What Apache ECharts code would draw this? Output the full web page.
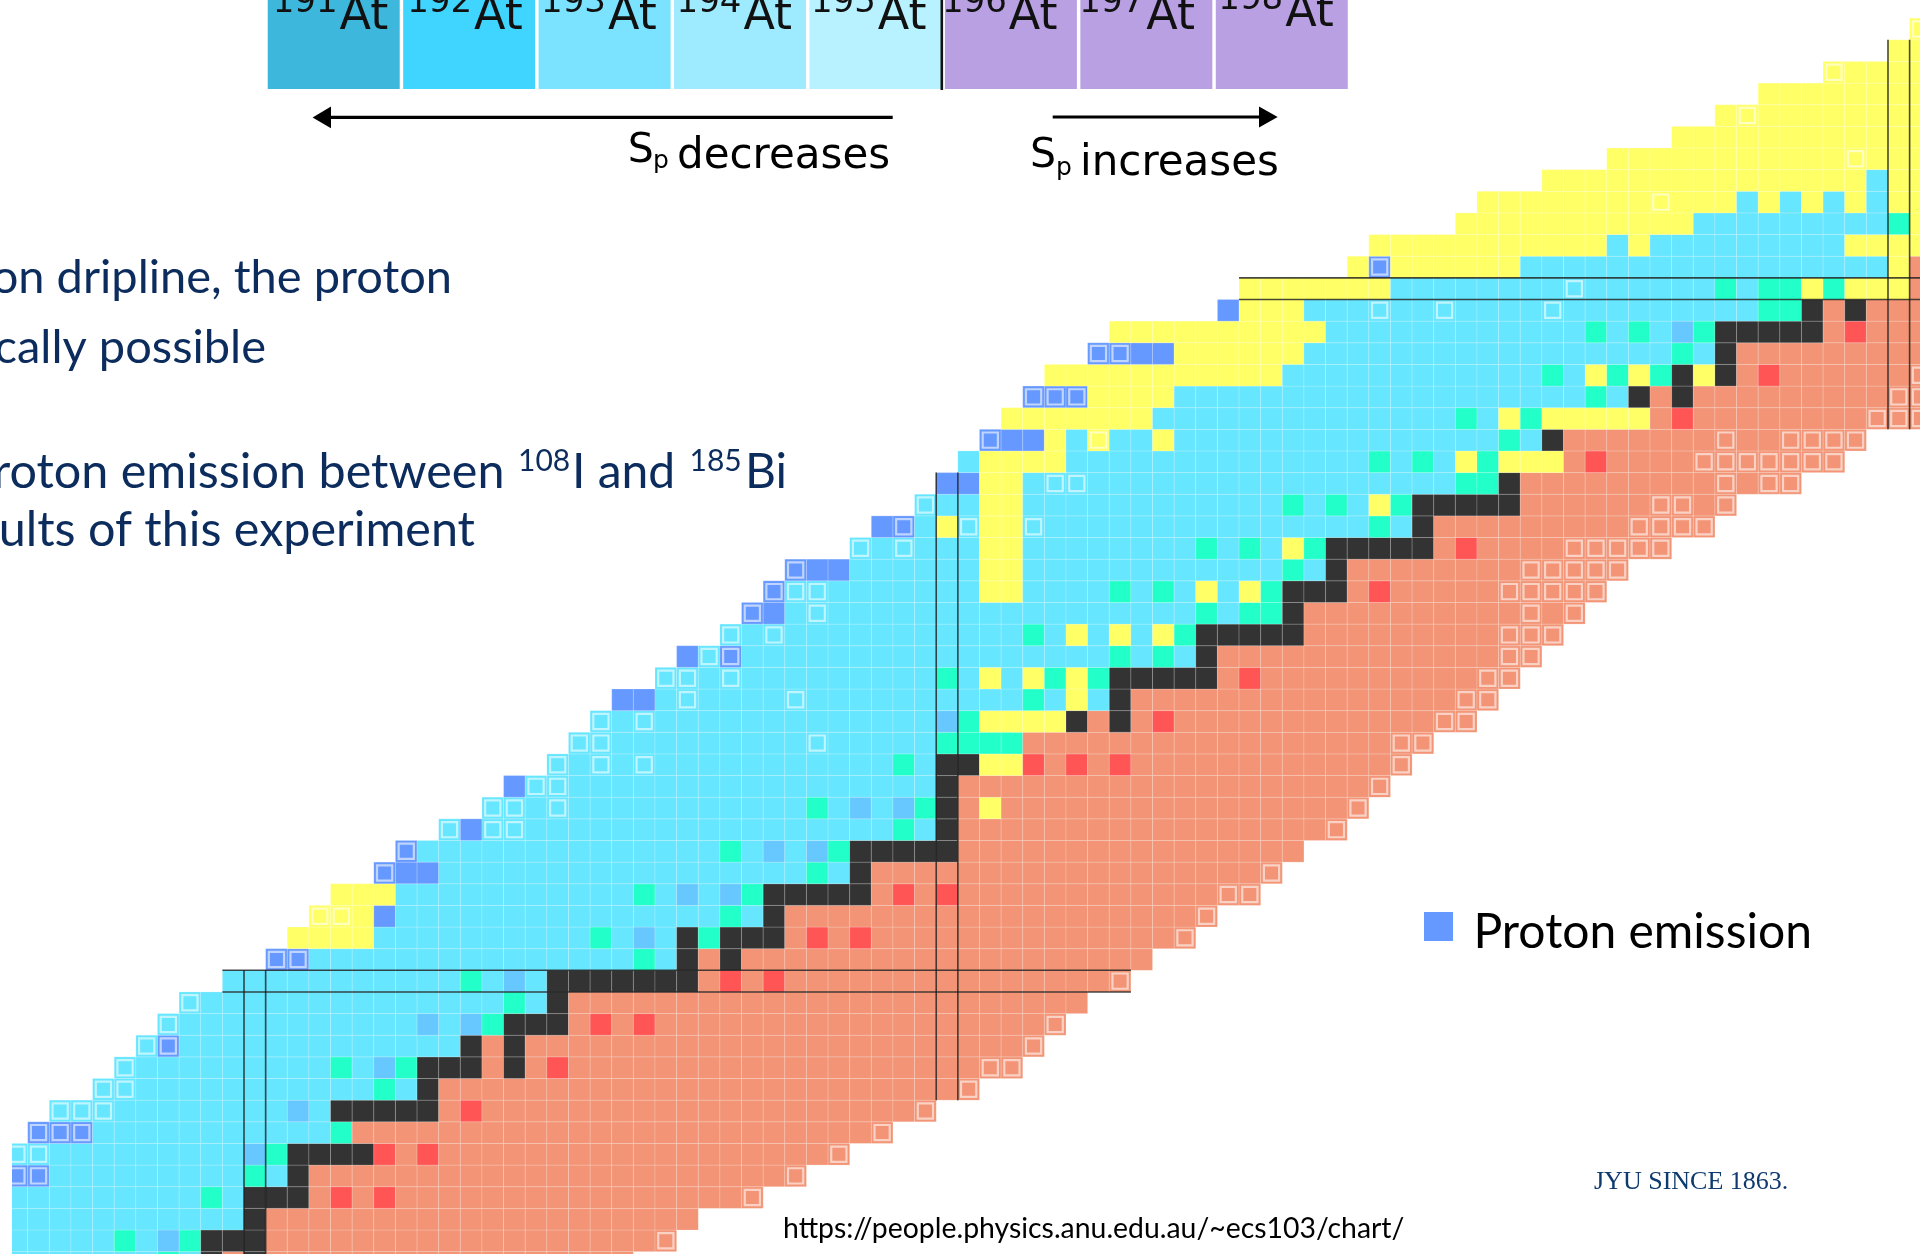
<!DOCTYPE html>
<html>
<head>
<meta charset="utf-8">
<style>html,body{margin:0;padding:0;background:#fff}#c{width:1920px;height:1254px}</style>
<script src="https://cdn.jsdelivr.net/npm/echarts@6/dist/echarts.min.js"></script>
</head>
<body>
<div id="c"></div>
<script>
// Nuclide chart. Each entry: "startN:code"; a code holds until the next token; "-" ends the row.
// Upper-case code = nuclide drawn with an inner frame.
const protonNumbers = [37,38,39,40,41,42,43,44,45,46,47,48,49,50,51,52,53,54,55,56,57,58,59,60,61,62,63,64,65,66,67,68,69,70,71,72,73,74,75,76,77,78,79,80,81,82,83,84,85,86,87,88,89,90,91,92,93,94];
const cellRuns = [
"39:c 46:g 47:c 48:k 49:o 50:k 51:o 68:-",
"39:c 44:g 45:c 46:b 47:g 48:k 51:o 69:O 70:-",
"39:c 50:k 51:o 71:-",
"39:c 48:g 49:c 50:k 53:o 54:r 55:o 56:r 57:o 73:O 74:-",
"39:P 41:c 50:g 51:c 52:k 53:o 75:O 76:-",
"39:C 41:c 50:b 51:g 52:k 56:r 57:o 58:r 59:o 77:O 78:-",
"40:P 43:c 54:g 55:o 79:O 80:-",
"41:C 44:c 52:b 53:c 54:k 59:o 60:r 61:o 81:O 82:-",
"43:C 45:c 56:g 57:c 58:k 59:o 83:O 84:-",
"44:C 45:c 54:g 55:c 56:b 57:g 58:k 61:o 62:k 63:o 64:r 65:o 84:O 86:-",
"45:C 46:P 47:c 60:k 61:o 62:k 63:o 86:O 87:-",
"46:C 47:c 58:b 59:c 60:b 61:g 62:k 65:o 66:r 67:o 68:r 69:o 87:O 88:-",
"47:C 48:c 62:g 63:c 64:k 65:o 89:-",
"49:c 60:g 61:c 62:b 63:c 64:k 71:o 72:r 73:o 74:r 75:o 90:O 91:-",
"51:P 53:c 68:g 69:c 70:k 71:o 72:k 73:o 92:-",
"52:y 56:c 66:g 67:c 68:b 69:c 70:k 71:g 72:k 75:o 76:r 77:o 78:r 79:o 93:O 94:-",
"53:Y 55:y 56:p 57:c 72:g 73:c 74:k 75:o 94:O 95:-",
"54:y 57:c 68:g 69:c 70:b 71:c 72:b 73:g 74:k 79:o 80:r 81:o 82:r 83:o 95:O 97:-",
"56:P 57:p 59:c 76:g 77:c 78:k 79:o 97:O 98:-",
"57:P 58:c 72:g 73:c 74:b 75:c 76:b 77:g 78:k 83:o 99:-",
"59:C 60:p 61:C 63:c 80:g 81:c 82:k 83:o 100:O 101:-",
"61:C 63:c 64:C 65:c 76:g 77:c 78:b 79:c 80:b 81:g 82:k 83:o 84:y 85:o 101:O 102:-",
"62:p 63:C 65:c 82:k 83:o 102:O 103:-",
"64:C 65:c 66:C 67:c 68:C 69:c 80:g 81:c 82:k 84:y 86:r 87:o 88:r 89:o 90:r 91:o 103:O 104:-",
"65:C 67:c 76:C 77:c 82:g 86:o 103:O 105:-",
"66:C 67:c 68:C 69:c 82:b 83:g 84:y 88:k 89:o 90:k 91:o 92:r 93:o 105:O 107:-",
"67:p 69:c 70:C 71:c 75:C 76:c 86:g 87:c 88:y 89:c 90:k 91:o 106:O 108:-",
"69:C 71:c 72:C 73:c 82:g 83:c 84:y 85:c 86:y 87:g 88:y 89:g 90:k 95:o 96:r 97:o 107:O 109:-",
"70:p 71:C 72:P 73:c 90:g 91:c 92:g 93:c 94:k 95:o 108:O 110:-",
"72:C 73:c 74:C 75:c 86:g 87:c 88:y 89:c 90:y 91:c 92:y 93:g 94:k 99:o 108:O 111:-",
"73:P 74:p 75:c 76:C 77:c 94:g 95:c 96:g 98:k 99:o 109:O 110:o 111:O 112:-",
"74:P 75:C 77:c 84:y 86:c 90:g 91:c 92:g 93:c 94:y 95:c 96:y 97:g 98:k 101:o 102:r 103:o 108:O 113:-",
"75:P 76:p 78:c 84:y 86:c 98:g 99:c 100:k 101:o 109:O 114:-",
"78:C 79:c 80:C 81:c 84:y 86:c 94:g 95:c 96:g 97:c 98:y 99:g 100:k 105:o 106:r 107:o 111:O 116:-",
"79:p 80:P 81:c 82:y 83:C 84:y 86:C 87:c 102:g 103:c 104:k 105:o 114:O 118:-",
"81:C 82:c 84:y 86:c 98:g 99:c 100:g 101:c 102:y 103:g 104:k 109:o 115:O 117:o 118:O 119:-",
"82:p 84:y 86:c 87:C 89:c 106:g 108:k 109:o 118:O 119:o 120:O 122:-",
"83:c 84:y 88:c 102:g 103:c 104:g 105:c 106:y 107:g 108:y 111:o 112:r 113:o 117:O 124:-",
"84:P 85:p 87:y 88:c 89:Y 90:c 92:y 93:c 108:g 109:c 110:k 111:o 118:O 119:o 121:O 125:-",
"85:y 92:c 106:g 107:c 108:y 109:g 110:y 115:o 116:r 117:o 125:O 128:-",
"86:P 89:y 93:c 112:g 113:c 114:k 115:o 116:k 117:o 126:O 128:-",
"87:y 98:c 110:g 111:c 112:y 113:g 114:y 115:g 116:k 117:y 118:k 119:o 120:r 121:o 127:O 128:-",
"89:P 91:p 93:y 99:c 116:g 117:c 118:k 119:o 128:-",
"90:y 100:c 112:g 113:c 114:g 115:c 116:b 117:g 118:k 123:o 124:r 125:o 128:-",
"95:p 96:y 99:c 102:C 103:c 105:C 106:c 110:C 111:c 120:g 122:k 123:o 124:k 125:o 128:-",
"96:y 103:c 111:C 112:c 118:g 119:c 120:g 122:y 123:g 124:y 127:o 128:-",
"101:y 102:P 103:y 109:c 126:y 127:o 128:-",
"102:y 113:c 114:y 115:c 124:y 128:-",
"106:y 117:c 126:g 127:y 128:-",
"107:y 115:Y 116:y 119:c 120:y 121:c 122:y 123:c 124:y 125:c 126:y 128:-",
"110:y 125:c 126:y 128:-",
"113:y 124:Y 125:y 128:-",
"116:y 128:-",
"118:y 119:Y 120:y 128:-",
"120:y 128:-",
"123:Y 124:y 128:-",
"126:y 128:-",
"127:Y 128:-"
];
// Closed shells: the proton or neutron number, and the span of the other number along which the pair of lines runs.
const neutronShells = [50, 82, 126];
const neutronShellSpans = [[37, 51], [45, 74], [76, 94]];
const protonShells = [50, 82];
const protonShellSpans = [[49, 91], [96, 128]];

const astatineMass = ["191","192","193","194","195","196","197","198"];
const astatineBars = [1,1,1,1,1,1,1,1];

const typeColors = {c:'#66E6FF', y:'#FFFF66', o:'#F29475', k:'#333333', g:'#22FFC8', b:'#66C8FF', p:'#6699FF', r:'#FF5555'};
const astatineColors = ['#3DB8DC','#40D5FF','#7BE3FF','#9EEAFF','#B8F1FF','#B9A0E2','#B9A0E2','#B9A0E2'];
const astatineLabelOffsets = [[5,-14],[4,-14],[2.5,-14],[2.5,-14],[1.5,-14],[-3,-14],[-1,-14],[2.5,-17]];

const cellData = [];
protonNumbers.forEach(function(z, i){
  const tokens = cellRuns[i].split(' ').map(function(t){ const a=t.split(':'); return [+a[0], a[1]]; });
  for (let t=0; t<tokens.length-1; t++){
    for (let n=tokens[t][0]; n<tokens[t+1][0]; n++){
      const code = tokens[t][1];
      const lower = code.toLowerCase();
      cellData.push([n, z, lower, code!==lower ? 1 : 0]);
    }
  }
});
const lineData = [];
neutronShells.forEach(function(n,i){
  const s = neutronShellSpans[i];
  lineData.push([n, s[0], n, s[1]]); lineData.push([n+1, s[0], n+1, s[1]]);
});
protonShells.forEach(function(z,i){
  const s = protonShellSpans[i];
  lineData.push([s[0], z+1, s[1], z+1]); lineData.push([s[0], z, s[1], z]);
});

const chart = echarts.init(document.getElementById('c'), null, {renderer:'canvas', width:1920, height:1254});

const NAVY = '#0B2C5C';
const LATO = 'Lato, "Open Sans", sans-serif';
const DEJA = '"DejaVu Sans", sans-serif';
const SERIF = '"Liberation Serif", serif';
const ASCENT = {};
ASCENT[LATO] = 0.80; ASCENT[DEJA] = 0.76; ASCENT[SERIF] = 0.74;
function T(x, baseline, text, size, fill, font, align){
  return {type:'text', silent:true, z:50, x:x, y:baseline - size*ASCENT[font], style:{text:text, fontSize:size, fill:fill, fontFamily:font, align:align||'left', verticalAlign:'top'}};
}
function arrow(pts){
  return {type:'polygon', silent:true, z:50, shape:{points:pts}, style:{fill:'#000'}};
}
const graphics = [
  {type:'rect', silent:true, z:50, shape:{x:940.5,y:0,width:2.6,height:90}, style:{fill:'#111'}},
  {type:'rect', silent:true, z:50, shape:{x:328,y:115.7,width:564.7,height:3.4}, style:{fill:'#000'}},
  arrow([[312.6,117.4],[331,106.6],[331,128.2]]),
  {type:'rect', silent:true, z:50, shape:{x:1052.7,y:115.5,width:208,height:3}, style:{fill:'#000'}},
  arrow([[1277.7,117],[1259,106.4],[1259,127.6]]),
  T(627.8,161.7,'S',41,'#000',DEJA),
  T(653,168,'p',25,'#000',DEJA),
  T(677,168.3,'decreases',42,'#000',DEJA),
  T(1030,167.5,'S',41,'#000',DEJA),
  T(1056,174.5,'p',25,'#000',DEJA),
  T(1080,175,'increases',42,'#000',DEJA),
  T(452,291.7,'on dripline, the proton',47,NAVY,LATO,'right'),
  T(266,361.7,'cally possible',47,NAVY,LATO,'right'),
  T(504.5,486.7,'roton emission between',48.5,NAVY,LATO,'right'),
  T(518,470,'108',30,NAVY,LATO),
  T(572,486.7,'I and',48,NAVY,LATO),
  T(689.5,470,'185',30,NAVY,LATO),
  T(745,486.7,'Bi',48,NAVY,LATO),
  T(475,545,'ults of this experiment',48.5,NAVY,LATO,'right'),
  {type:'rect', silent:true, z:50, shape:{x:1424,y:912,width:29,height:29}, style:{fill:'#6699FF'}},
  T(1473.5,947.3,'Proton emission',48,'#000',LATO),
  T(1594,1188.3,'JYU SINCE 1863.',26,'#0F3A6E',SERIF),
  T(783,1237.3,'https://people.physics.anu.edu.au/~ecs103/chart/',28.4,'#000',LATO)
];

chart.setOption({
  animation:false,
  backgroundColor:'#fff',
  graphic:{elements:graphics},
  grid:[
    {left:12, top:0, width:1908, height:1254, containLabel:false},
    {left:266, top:0, width:1083.5, height:89, containLabel:false}
  ],
  xAxis:[
    {type:'value', gridIndex:0, min:39.274, max:127.48, show:false},
    {type:'category', gridIndex:1, data:astatineMass, show:false}
  ],
  yAxis:[
    {type:'value', gridIndex:0, min:37.89, max:95.84, show:false},
    {type:'value', gridIndex:1, min:0, max:1, show:false}
  ],
  series:[
    {
      type:'custom', xAxisIndex:0, yAxisIndex:0, clip:true, silent:true, z:2,
      data:cellData,
      dimensions:['N','Z','type','framed'],
      encode:{x:0,y:1},
      renderItem:function(params, api){
        const item = cellData[params.dataIndex];
        const a = api.coord([item[0], item[1]+1]);
        const b = api.coord([item[0]+1, item[1]]);
        const w = b[0]-a[0], h = b[1]-a[1];
        const fill = typeColors[item[2]];
        const kids = [{type:'rect', shape:{x:a[0],y:a[1],width:w,height:h},
          style:{fill:fill, stroke:'rgba(255,255,255,0.18)', lineWidth:1}}];
        if (item[3]) kids.push({type:'rect', shape:{x:a[0]+3.2,y:a[1]+3.2,width:w-6.4,height:h-6.4},
          style:{fill:'none', stroke:'rgba(255,255,255,0.58)', lineWidth:2.2}});
        return {type:'group', children:kids};
      }
    },
    {
      type:'custom', xAxisIndex:0, yAxisIndex:0, clip:true, silent:true, z:5,
      data:lineData,
      encode:{x:[0,2],y:[1,3]},
      renderItem:function(params, api){
        const l = lineData[params.dataIndex];
        const a = api.coord([l[0],l[1]]), b = api.coord([l[2],l[3]]);
        return {type:'line', shape:{x1:a[0],y1:a[1],x2:b[0],y2:b[1]},
          style:{stroke:'rgba(20,20,20,0.78)', lineWidth:1.6}};
      }
    },
    {
      type:'bar', xAxisIndex:1, yAxisIndex:1, silent:true, z:3, barWidth:132,
      data:astatineBars.map(function(v,i){ return {value:v, itemStyle:{color:astatineColors[i]}, label:{position:astatineLabelOffsets[i]}}; }),
      label:{
        show:true,
        formatter:function(p){ return '{m|'+astatineMass[p.dataIndex]+'}{a|At}'; },
        rich:{
          m:{fontSize:34, fontFamily:DEJA, color:'#111', padding:[0,2,29,0]},
          a:{fontSize:46, fontFamily:DEJA, color:'#111'}
        }
      }
    }
  ]
});
</script>
</body>
</html>
